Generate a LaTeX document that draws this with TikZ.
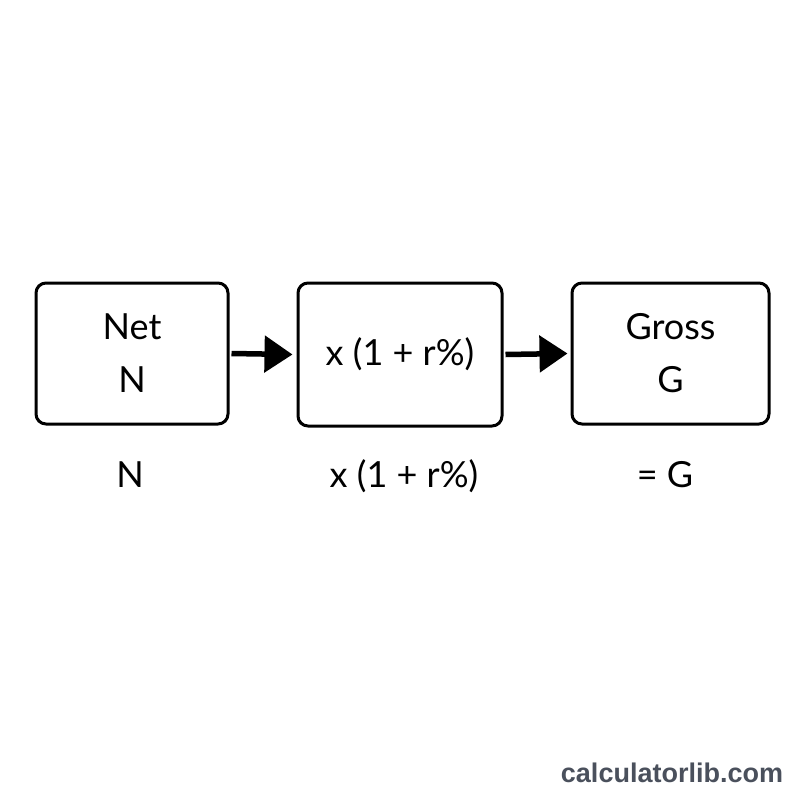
\documentclass[tikz,border=0pt]{standalone}
\usepackage{fontspec}
\setmainfont{Lato}
\newfontfamily\wmfont{Liberation Sans}
\usetikzlibrary{arrows.meta}
\definecolor{wmgray}{HTML}{4A505C}
\tikzset{stage/.style={draw,line width=3pt,rounded corners=10pt,align=center,
    font=\fontsize{36}{53}\selectfont},
  flow/.style={-{Triangle[length=28pt,width=36pt]},line width=5.5pt},
  lbl/.style={anchor=base,font=\fontsize{36}{40}\selectfont}}

\begin{document}
\begin{tikzpicture}[x=1pt,y=-1pt]
    \useasboundingbox[fill=white] (0,0) rectangle (800,800);

    % Boxes
    \node[stage,minimum width=192pt,minimum height=141pt] (net) at (132,353.5) {Net\\N};
    \node[stage,minimum width=204pt,minimum height=143pt] (mult) at (400,354.5) {x (1 + r\%)};
    \node[stage,minimum width=197pt,minimum height=141pt] (gross) at (670.5,353.5) {Gross\\G};

    % Arrows
    \draw[flow] ([xshift=2pt]net.east) -- ([xshift=-4pt]mult.west);
    \draw[flow] ([xshift=2pt]mult.east) -- ([xshift=-3pt]gross.west);

    % Labels underneath
    \node[lbl] (netval) at (130,487) {N};
    \node[lbl] (multval) at (404,487) {x (1 + r\%)};
    \node[lbl] (grossval) at (665,487) {= G};

    % Watermark
    \node[font=\wmfont\bfseries\fontsize{27}{30}\selectfont,text=wmgray] (mark) at (672,773) {calculatorlib.com};
\end{tikzpicture}
\end{document}
